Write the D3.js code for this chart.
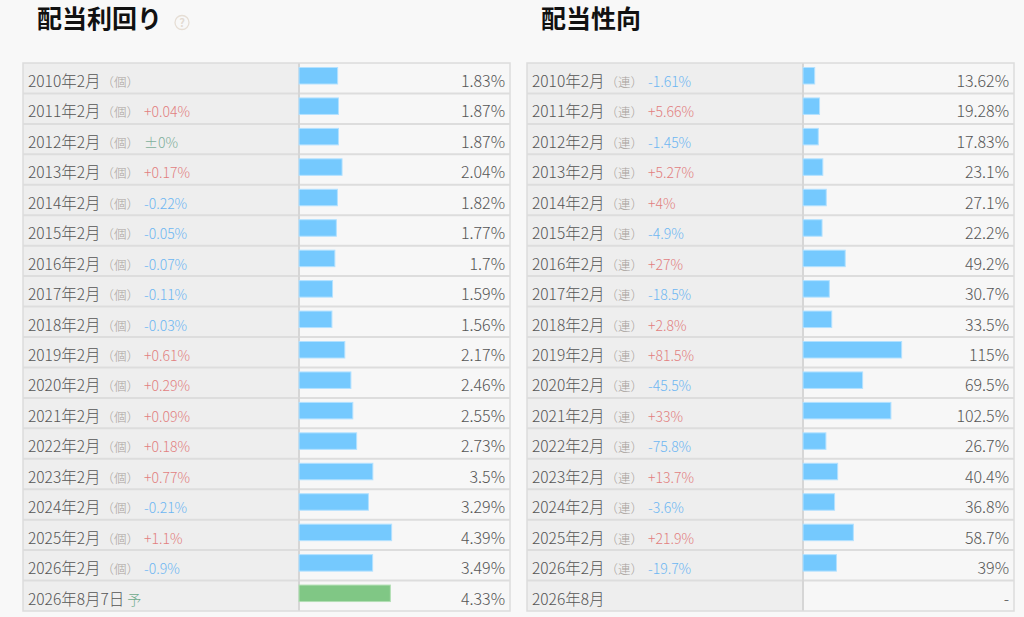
<!DOCTYPE html>
<html>
<head>
<meta charset="utf-8">
<script src="https://cdn.jsdelivr.net/npm/d3@7"></script>
<style>
  body { margin: 0; background: #f8f8f8; }
  svg { display: block; font-family: "Noto Sans CJK JP", "Noto Sans", sans-serif; }
</style>
</head>
<body>
<script>
window.addEventListener( 'load', function () {
    //
    // DATA
    const periods = [ '2010年2月', '2011年2月', '2012年2月', '2013年2月', '2014年2月', '2015年2月',
        '2016年2月', '2017年2月', '2018年2月', '2019年2月', '2020年2月', '2021年2月', '2022年2月',
        '2023年2月', '2024年2月', '2025年2月', '2026年2月' ];
    const yieldLastLabel = '2026年8月7日';
    const payoutLastLabel = '2026年8月';
    const yieldValues = [ 1.83, 1.87, 1.87, 2.04, 1.82, 1.77, 1.7, 1.59, 1.56, 2.17, 2.46, 2.55, 2.73, 3.5, 3.29, 4.39, 3.49 ];
    const yieldForecast = 4.33;
    const yieldChanges = [ null, 0.04, 0, 0.17, -0.22, -0.05, -0.07, -0.11, -0.03, 0.61, 0.29, 0.09, 0.18, 0.77, -0.21, 1.1, -0.9 ];
    const payoutValues = [ 13.62, 19.28, 17.83, 23.1, 27.1, 22.2, 49.2, 30.7, 33.5, 115, 69.5, 102.5, 26.7, 40.4, 36.8, 58.7, 39 ];
    const payoutChanges = [ -1.61, 5.66, -1.45, 5.27, 4, -4.9, 27, -18.5, 2.8, 81.5, -45.5, 33, -75.8, 13.7, -3.6, 21.9, -19.7 ];
    //
    // SIZES
    const WIDTH = 1024;
    const HEIGHT = 617;
    const TABLE_TOP = 63;
    const TABLE_BOTTOM = 611;
    const LABEL_W = 276;

    const svg = d3.select( 'body' ).append( 'svg' )
        .attr( 'width', WIDTH )
        .attr( 'height', HEIGHT );

    const rowCount = periods.length + 1;
    const y = d3.scaleBand()
        .domain( d3.range( rowCount ) )
        .range( [ TABLE_TOP, TABLE_BOTTOM ] );

    function changeText( c ) {
        if ( c === 0 ) return '±0%';
        return ( c > 0 ? '+' : '' ) + c + '%';
    }
    function changeColor( c ) {
        if ( c === 0 ) return '#7fae9b';
        return c > 0 ? '#e27f7f' : '#6db6f2';
    }

    function drawTable( opt ) {
        const g = svg.append( 'g' );
        const x0 = opt.left, x1 = opt.right, xs = x0 + LABEL_W;
        //
        // title
        g.append( 'text' )
            .attr( 'x', opt.titleX ).attr( 'y', 28 )
            .attr( 'font-size', 25 ).attr( 'font-weight', 'bold' ).attr( 'fill', '#111' )
            .text( opt.title );
        //
        // cells
        g.append( 'rect' ).attr( 'x', x0 ).attr( 'y', TABLE_TOP )
            .attr( 'width', LABEL_W ).attr( 'height', TABLE_BOTTOM - TABLE_TOP ).attr( 'fill', '#eeeeee' );
        g.append( 'rect' ).attr( 'x', xs ).attr( 'y', TABLE_TOP )
            .attr( 'width', x1 - xs ).attr( 'height', TABLE_BOTTOM - TABLE_TOP ).attr( 'fill', '#f7f7f7' );
        g.selectAll( 'line.row' )
            .data( d3.range( 1, rowCount ) )
            .enter().append( 'line' )
            .attr( 'x1', x0 ).attr( 'x2', x1 )
            .attr( 'y1', d => y( d ) ).attr( 'y2', d => y( d ) )
            .attr( 'stroke', '#dddddd' ).attr( 'stroke-width', 2 );
        g.append( 'line' ).attr( 'x1', xs ).attr( 'x2', xs )
            .attr( 'y1', TABLE_TOP ).attr( 'y2', TABLE_BOTTOM )
            .attr( 'stroke', '#d6d6d6' ).attr( 'stroke-width', 2 );
        g.append( 'rect' ).attr( 'x', x0 ).attr( 'y', TABLE_TOP )
            .attr( 'width', x1 - x0 ).attr( 'height', TABLE_BOTTOM - TABLE_TOP )
            .attr( 'fill', 'none' ).attr( 'stroke', '#dcdcdc' ).attr( 'stroke-width', 1.5 );
        //
        // bars
        const x = d3.scaleLinear().domain( opt.domain ).range( [ xs, x1 ] );
        g.selectAll( 'rect.bar' )
            .data( opt.rows.filter( r => r.value != null ) )
            .enter().append( 'rect' )
            .attr( 'x', x( 0 ) )
            .attr( 'y', d => y( d.i ) + 4.5 )
            .attr( 'width', d => x( d.value ) - x( 0 ) )
            .attr( 'height', 16.5 )
            .attr( 'fill', d => d.forecast ? '#80c785' : '#75c9fe' )
            .attr( 'stroke', d => d.forecast ? '#b2dfb4' : '#b3e1ff' )
            .attr( 'stroke-width', 1 );
        //
        // values
        g.selectAll( 'text.val' )
            .data( opt.rows )
            .enter().append( 'text' )
            .attr( 'x', x1 - 5 )
            .attr( 'y', d => y( d.i ) + 24 )
            .attr( 'text-anchor', 'end' )
            .attr( 'font-size', 16 ).attr( 'font-weight', 300 ).attr( 'fill', '#555' )
            .text( d => d.value == null ? '-' : d.value + '%' );
        //
        // labels
        const lbl = g.selectAll( 'text.lbl' )
            .data( opt.rows )
            .enter().append( 'text' )
            .attr( 'x', x0 + 5 )
            .attr( 'y', d => y( d.i ) + 24 )
            .attr( 'font-size', 15.5 ).attr( 'font-weight', 300 ).attr( 'fill', '#555' );
        lbl.append( 'tspan' ).text( d => d.label );
        lbl.filter( d => d.tag ).append( 'tspan' )
            .attr( 'font-size', d => d.forecast ? 14 : 12.5 )
            .attr( 'dx', d => d.forecast ? 3 : 1 )
            .attr( 'fill', d => d.forecast ? '#6faa8c' : '#a8a29c' )
            .text( d => d.tag );
        lbl.filter( d => d.change != null ).append( 'tspan' )
            .attr( 'dx', 5 )
            .attr( 'font-size', 14 )
            .attr( 'fill', d => changeColor( d.change ) )
            .text( d => changeText( d.change ) );
    }

    const yieldRows = periods.map( ( p, i ) => ( { i: i, label: p, tag: '（個）', value: yieldValues[ i ], change: yieldChanges[ i ] } ) );
    yieldRows.push( { i: periods.length, label: yieldLastLabel, tag: '予', value: yieldForecast, change: null, forecast: true } );

    const payoutRows = periods.map( ( p, i ) => ( { i: i, label: p, tag: '（連）', value: payoutValues[ i ], change: payoutChanges[ i ] } ) );
    payoutRows.push( { i: periods.length, label: payoutLastLabel, tag: null, value: null, change: null } );

    drawTable( { left: 23, right: 510, titleX: 37, title: '配当利回り', rows: yieldRows, domain: [ 0, 10 ] } );
    drawTable( { left: 527, right: 1014, titleX: 541, title: '配当性向', rows: payoutRows, domain: [ 0, 246 ] } );
    //
    // help icon
    svg.append( 'circle' ).attr( 'cx', 182 ).attr( 'cy', 22.5 ).attr( 'r', 7 )
        .attr( 'fill', 'none' ).attr( 'stroke', '#e6ded5' ).attr( 'stroke-width', 1.3 );
    svg.append( 'text' ).attr( 'x', 182 ).attr( 'y', 26.5 ).attr( 'text-anchor', 'middle' )
        .attr( 'font-size', 11 ).attr( 'font-weight', 'bold' ).attr( 'fill', '#e3dbd2' ).text( '?' );
}, false );
</script>
</body>
</html>
